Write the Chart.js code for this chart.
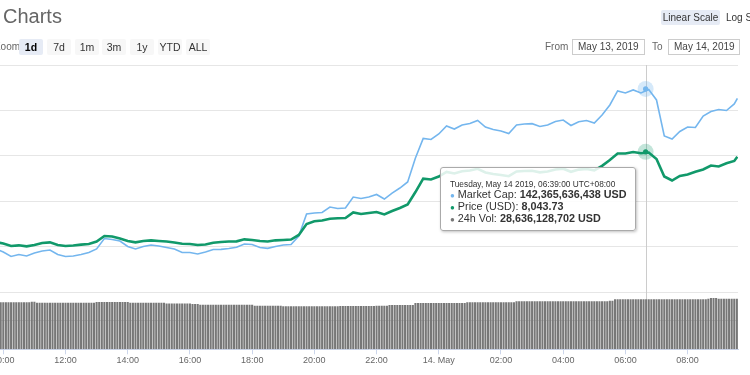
<!DOCTYPE html>
<html>
<head>
<meta charset="utf-8">
<script src="https://cdn.jsdelivr.net/npm/chart.js@4.4.0/dist/chart.umd.min.js"></script>
<style>
  body { margin: 0; background: #fff; font-family: "Liberation Sans", Arial, sans-serif; overflow: hidden; }
  #wrap { position: relative; width: 750px; height: 375px; overflow: hidden; }
  #chart { position: absolute; left: 0; top: 0; }
  .abs { position: absolute; white-space: nowrap; }
  .title { left: 3px; top: 4px; font-size: 20px; line-height: 24px; color: #666; }
  .lbl { font-size: 10px; line-height: 16px; color: #666; top: 39px; }
  .btn { top: 39px; width: 24px; height: 16px; line-height: 16px; font-size: 10.5px; text-align: center;
         background: #f7f7f7; color: #333; border-radius: 2px; }
  .btn.on { background: #e6ebf5; color: #000; font-weight: bold; }
  .date { top: 39px; height: 14px; line-height: 14px; border: 1px solid #ccc; font-size: 10px; color: #444;
          padding-left: 5px; box-sizing: content-box; }
  #tip { left: 440px; top: 167px; width: 194px; height: 62px; border: 1px solid #aaa; border-radius: 3px;
         background: rgba(255,255,255,0.86); box-shadow: 1px 1px 3px rgba(0,0,0,0.25); color: #333; }
  #tip .row { position: absolute; left: 9px; font-size: 10.8px; line-height: 12px; white-space: nowrap; }
  #tip .head { font-size: 8.3px; top: 10px; }
  #tip .dot { font-size: 8px; margin-right: 3px; }
</style>
</head>
<body>
<div id="wrap">
  <canvas id="chart" width="750" height="375"></canvas>
  <div class="abs title">Charts</div>
  <div class="abs lbl" style="left:-5.5px">Zoom</div>
  <div class="abs btn on" style="left:19px">1d</div>
  <div class="abs btn" style="left:47px">7d</div>
  <div class="abs btn" style="left:75px">1m</div>
  <div class="abs btn" style="left:102px">3m</div>
  <div class="abs btn" style="left:130px">1y</div>
  <div class="abs btn" style="left:158px">YTD</div>
  <div class="abs btn" style="left:186px">ALL</div>
  <div class="abs btn on" style="left:661px;top:10px;width:59px;height:15px;line-height:15px;font-size:10px;font-weight:normal;color:#333">Linear Scale</div>
  <div class="abs lbl" style="left:726px;top:10px;line-height:15px;color:#333">Log Scale</div>
  <div class="abs lbl" style="left:545px">From</div>
  <div class="abs date" style="left:572px;width:66px">May 13, 2019</div>
  <div class="abs lbl" style="left:652px">To</div>
  <div class="abs date" style="left:668px;width:65px">May 14, 2019</div>
  <div class="abs" id="tip"></div>
</div>
<script>
// times are UTC+08:00, the series run from May 13 to May 14 2019
const lineTimes = [
  '09:45','10:00','10:15','10:30','10:45','11:00','11:15','11:30','11:45','12:00','12:15','12:30','12:45',
  '13:00','13:15','13:30','13:45','14:00','14:15','14:30','14:45','15:00','15:15','15:30','15:45',
  '16:00','16:15','16:30','16:45','17:00','17:15','17:30','17:45','18:00','18:15','18:30','18:45',
  '19:00','19:15','19:30','19:45','20:00','20:15','20:30','20:45','21:00','21:15','21:30','21:45',
  '22:00','22:15','22:30','22:45','23:00','23:15','23:30','23:45','00:00','00:15','00:30','00:45',
  '01:00','01:15','01:30','01:45','02:00','02:15','02:30','02:45','03:00','03:15','03:30','03:45',
  '04:00','04:15','04:30','04:45','05:00','05:15','05:30','05:45','06:00','06:15','06:30','06:45',
  '07:00','07:15','07:30','07:45','08:00','08:15','08:30','08:45','09:00','09:15','09:30','09:36'
];

// market cap, billions USD
const marketCap = [
  124.74, 124.41, 123.91, 124.13, 123.97, 124.30, 124.52, 124.63, 124.13, 123.91, 123.97, 124.13, 124.35,
  124.74, 125.89, 125.78, 125.62, 125.01, 124.74, 125.01, 125.18, 125.07, 124.90, 124.74, 124.35,
  124.35, 124.19, 124.41, 124.68, 124.70, 124.79, 124.92, 125.29, 125.23, 124.90, 124.81, 125.01,
  125.18, 125.23, 126.17, 128.59, 128.70, 128.76, 129.36, 129.20, 129.25, 130.46, 130.30, 130.46,
  130.74, 130.24, 130.90, 131.45, 132.12, 134.76, 136.91, 136.80, 137.40, 138.28, 137.95, 138.39,
  138.56, 138.89, 138.17, 137.90, 137.73, 137.46, 138.39, 138.50, 138.54, 138.23, 138.39, 138.78,
  138.94, 138.34, 138.76, 138.89, 138.61, 139.49, 140.60, 142.14, 141.92, 142.25, 141.92, 142.30,
  141.15, 137.18, 136.85, 137.68, 138.17, 138.12, 139.38, 139.88, 140.10, 139.99, 140.71, 141.31
];

// price, USD
const priceUsd = [
  7051, 7034, 7007, 7014, 7003, 7018, 7040, 7047, 7018, 7007, 7012, 7022, 7029,
  7056, 7117, 7111, 7089, 7062, 7047, 7062, 7069, 7062, 7056, 7045, 7032,
  7029, 7018, 7023, 7043, 7051, 7056, 7058, 7080, 7073, 7062, 7056, 7069,
  7073, 7078, 7128, 7249, 7279, 7287, 7307, 7312, 7315, 7376, 7359, 7370,
  7381, 7354, 7392, 7425, 7464, 7601, 7748, 7739, 7772, 7822, 7805, 7829,
  7838, 7857, 7816, 7800, 7789, 7775, 7827, 7833, 7836, 7818, 7827, 7849,
  7858, 7824, 7848, 7855, 7840, 7890, 7954, 8025, 8025, 8042, 8028, 8036,
  7965, 7772, 7728, 7778, 7794, 7825, 7849, 7893, 7882, 7917, 7943, 7990
];

// 24h volume, billions USD, one bar every 5 minutes from 09:55
const volStart = '09:55';
const volStepMin = 5;
const volume24h = [
  26.9,
  26.9, 26.9, 26.9, 26.9, 26.9, 26.9, 26.9, 26.9, 26.9, 26.9, 26.9, 27.3,
  27.3, 26.7, 26.7, 26.7, 26.7, 26.7, 26.7, 26.7, 26.7, 26.7, 26.7, 26.7,
  26.7, 26.7, 26.7, 26.7, 26.7, 26.7, 26.7, 26.7, 26.7, 26.7, 26.7, 26.7,
  27.1, 27.1, 27.1, 27.1, 27.1, 27.1, 27.1, 27.1, 27.1, 27.1, 27.1, 27.1,
  27.1, 26.7, 26.7, 26.7, 26.7, 26.7, 26.7, 26.7, 26.7, 26.7, 26.7, 26.7,
  26.7, 26.7, 26.7, 26.3, 26.3, 26.3, 26.3, 26.3, 26.3, 26.3, 26.3, 26.3,
  26.3, 25.9, 25.9, 25.9, 25.5, 25.5, 25.5, 25.5, 25.5, 25.5, 25.5, 25.5,
  25.5, 25.5, 25.5, 25.5, 25.5, 25.5, 25.5, 25.5, 25.5, 25.5, 25.5, 25.5,
  25.5, 25.0, 25.0, 25.0, 25.0, 25.0, 25.0, 25.0, 25.0, 25.0, 25.0, 25.0,
  24.6, 24.6, 24.6, 24.6, 24.6, 24.6, 24.6, 24.6, 24.6, 24.6, 24.6, 24.6,
  24.6, 24.6, 24.6, 24.6, 24.6, 24.6, 24.6, 24.6, 24.6, 24.6, 24.8, 24.8,
  24.8, 24.8, 24.8, 24.8, 24.8, 24.8, 24.8, 24.8, 24.8, 24.8, 24.8, 24.8,
  25.0, 25.0, 25.0, 25.0, 25.0, 25.4, 25.4, 25.4, 25.4, 25.4, 25.4, 25.4,
  25.4, 25.4, 25.4, 26.5, 26.5, 26.5, 26.5, 26.5, 26.5, 26.5, 26.5, 26.5,
  26.5, 26.5, 26.5, 26.5, 26.5, 26.5, 26.5, 26.5, 26.5, 26.5, 26.5, 26.9,
  26.9, 26.9, 26.9, 26.9, 26.9, 26.9, 26.9, 26.9, 26.9, 26.9, 26.9, 26.9,
  26.9, 26.9, 26.9, 26.9, 26.9, 26.9, 27.5, 27.5, 27.5, 27.5, 27.5, 27.5,
  27.5, 27.5, 27.5, 27.5, 27.5, 27.5, 27.5, 27.5, 27.5, 27.5, 27.5, 27.5,
  27.5, 27.5, 27.5, 27.5, 27.5, 27.5, 27.5, 27.5, 27.5, 27.5, 27.5, 27.5,
  27.5, 27.5, 27.5, 27.5, 27.5, 27.5, 27.8, 27.8, 28.6, 28.6, 28.6, 28.6,
  28.6, 28.6, 28.6, 28.6, 28.6, 28.6, 28.6, 28.6, 28.6, 28.6, 28.6, 28.6,
  28.6, 28.6, 28.6, 28.6, 28.6, 28.6, 28.6, 28.6, 28.6, 28.6, 28.6, 28.6,
  28.6, 28.6, 28.6, 28.6, 28.6, 28.6, 28.6, 28.6, 29.0, 29.4, 29.4, 29.4,
  29.0, 29.0, 29.0, 29.0, 29.0, 29.0, 29.0, 29.0
];

const tickLabels = ['10:00', '12:00', '14:00', '16:00', '18:00', '20:00', '22:00',
                    '14. May', '02:00', '04:00', '06:00', '08:00'];

// the hovered point shown in the tooltip
const hoverHeader = 'Tuesday, May 14 2019, 06:39:00 UTC+08:00';
const hoverTime = '06:39';
const hoverMarketCap = 142365636438;
const hoverPrice = 8043.73;
const hoverVolume = 28636128702;

const BLUE = '#74b6ee';
const GREEN = '#11996a';
const GREY = '#777777';

// 'HH:MM' strings -> hours since May 13 00:00, rolling over at midnight
function toHours(list) {
  let day = 0, last = -1;
  return list.map(s => {
    const [h, m] = s.split(':').map(Number);
    let v = h + m / 60;
    if (v + day < last) day += 24;
    last = v + day;
    return last;
  });
}

const lineHours = toHours(lineTimes);
const volBase = toHours([volStart])[0];
const volHours = volume24h.map((v, i) => volBase + i * volStepMin / 60);
const hoverHours = 24 + toHours([hoverTime])[0];

const crosshair = {
  id: 'crosshair',
  beforeDatasetsDraw(chart) {
    const {ctx, chartArea, scales} = chart;
    const x = Math.round(scales.x.getPixelForValue(hoverHours)) + 0.5;
    ctx.save();
    ctx.strokeStyle = '#cccccc';
    ctx.lineWidth = 1;
    ctx.beginPath();
    ctx.moveTo(x, chartArea.top);
    ctx.lineTo(x, chartArea.bottom);
    ctx.stroke();
    ctx.restore();
  },
  afterDatasetsDraw(chart) {
    const {ctx, scales} = chart;
    const x = scales.x.getPixelForValue(hoverHours);
    const pts = [
      [scales.yMC.getPixelForValue(hoverMarketCap / 1e9), BLUE, 'rgba(116,182,238,0.3)'],
      [scales.yP.getPixelForValue(hoverPrice), GREEN, 'rgba(17,153,106,0.25)']
    ];
    ctx.save();
    pts.forEach(([y, c, halo]) => {
      ctx.fillStyle = halo;
      ctx.beginPath(); ctx.arc(x, y, 8, 0, Math.PI * 2); ctx.fill();
      ctx.fillStyle = c;
      ctx.beginPath(); ctx.arc(x, y, 2.6, 0, Math.PI * 2); ctx.fill();
    });
    ctx.restore();
  }
};

const fmt = n => n.toLocaleString('en-US', {maximumFractionDigits: 2});
document.getElementById('tip').innerHTML =
  '<div class="row head">' + hoverHeader + '</div>' +
  '<div class="row" style="top:20px"><span class="dot" style="color:' + BLUE + '">\u25CF</span>Market Cap: <b>' + fmt(hoverMarketCap) + ' USD</b></div>' +
  '<div class="row" style="top:32px"><span class="dot" style="color:' + GREEN + '">\u25CF</span>Price (USD): <b>' + fmt(hoverPrice) + '</b></div>' +
  '<div class="row" style="top:44px"><span class="dot" style="color:' + GREY + '">\u25CF</span>24h Vol: <b>' + fmt(hoverVolume) + ' USD</b></div>';

const hiddenY = {
  display: true,
  position: 'left',
  ticks: { display: false },
  border: { display: false },
  grid: { drawTicks: false, color: '#e6e6e6' }
};

new Chart(document.getElementById('chart'), {
  type: 'line',
  data: {
    datasets: [
      {
        type: 'bar',
        label: '24h Vol',
        data: volHours.map((x, i) => ({x: x, y: volume24h[i]})),
        yAxisID: 'yV',
        backgroundColor: GREY,
        barPercentage: 1,
        categoryPercentage: 0.8,
        order: 3
      },
      {
        label: 'Market Cap',
        data: lineHours.map((x, i) => ({x: x, y: marketCap[i]})),
        yAxisID: 'yMC',
        borderColor: BLUE,
        borderWidth: 1.6,
        pointRadius: 0,
        tension: 0,
        order: 2
      },
      {
        label: 'Price (USD)',
        data: lineHours.map((x, i) => ({x: x, y: priceUsd[i]})),
        yAxisID: 'yP',
        borderColor: GREEN,
        borderWidth: 2.6,
        pointRadius: 0,
        tension: 0,
        order: 1
      }
    ]
  },
  options: {
    responsive: false,
    animation: false,
    devicePixelRatio: 1,
    events: [],
    layout: { padding: { top: 65, left: 0, right: 12, bottom: 7.9 } },
    plugins: { legend: { display: false }, tooltip: { enabled: false } },
    scales: {
      x: {
        type: 'linear',
        offset: false,
        min: 9.894,
        max: 33.62,
        grid: { display: true, offset: false, drawOnChartArea: false, drawTicks: true, tickLength: 5, color: '#ccd6eb' },
        border: { display: true, color: '#ccd6eb' },
        ticks: {
          stepSize: 2,
          includeBounds: false,
          autoSkip: false,
          maxRotation: 0,
          padding: 1,
          color: '#666',
          font: { family: '"Liberation Sans", Arial, sans-serif', size: 9 },
          callback: (v, i) => tickLabels[i]
        },
        afterFit: s => { s.paddingLeft = 0; s.paddingRight = 0; }
      },
      // main pane: 145B at the top line, 5B per grid step, five steps
      yMC: Object.assign({}, hiddenY, {
        min: 113.69, max: 145,
        afterBuildTicks: s => { s.ticks = [120, 125, 130, 135, 140, 145].map(v => ({value: v})); }
      }),
      yP: { display: false, position: 'left', min: 5869, max: 9000 },
      // volume pane: zero at the axis, one grid step up to the main pane
      yV: Object.assign({}, hiddenY, {
        min: 0, max: 162.82,
        grid: { drawTicks: false, color: '#d9d9d9' },
        afterBuildTicks: s => { s.ticks = [{value: 16.41}]; }
      })
    }
  },
  plugins: [crosshair]
});
</script>
</body>
</html>
